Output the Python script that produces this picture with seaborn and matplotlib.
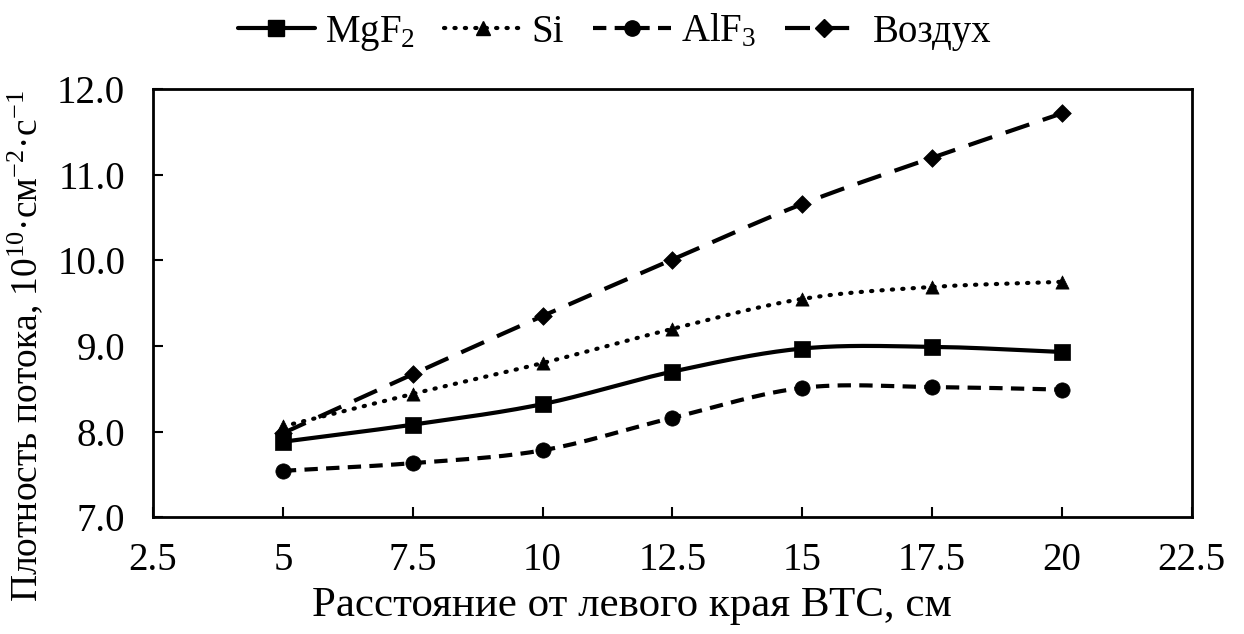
import numpy as np
import pandas as pd
import matplotlib
matplotlib.use("Agg")
import matplotlib.pyplot as plt
from matplotlib.lines import Line2D
import seaborn as sns

# Distance from the left edge of the source, cm
distance = [5, 7.5, 10, 12.5, 15, 17.5, 20]

# Flux density, 10^10 cm^-2 s^-1
mgf2 = [7.88, 8.08, 8.32, 8.70, 8.97, 8.99, 8.93]
si = [8.06, 8.44, 8.80, 9.20, 9.55, 9.69, 9.75]
alf3 = [7.54, 7.63, 7.78, 8.16, 8.51, 8.52, 8.49]
air = [7.98, 8.67, 9.35, 10.01, 10.66, 11.20, 11.72]

series_names = ["MgF$_2$", "Si", "AlF$_3$", "Воздух"]
series_values = [mgf2, si, alf3, air]

x_ticks = [2.5, 5, 7.5, 10, 12.5, 15, 17.5, 20, 22.5]
y_ticks = [7.0, 8.0, 9.0, 10.0, 11.0, 12.0]

sns.set_style("ticks")
plt.rcParams["font.family"] = ["Liberation Serif", "DejaVu Serif"]
plt.rcParams["mathtext.fontset"] = "custom"
plt.rcParams["mathtext.rm"] = "Liberation Serif"
plt.rcParams["mathtext.it"] = "Liberation Serif"
plt.rcParams["mathtext.bf"] = "Liberation Serif"
for key in ["text.color", "axes.labelcolor", "xtick.color", "ytick.color",
            "axes.edgecolor"]:
    plt.rcParams[key] = "black"


def smooth_curve(xs, ys, n=30):
    """Catmull-Rom style smoothing through the measured points."""
    xs = np.asarray(xs, float)
    ys = np.asarray(ys, float)
    px = np.concatenate([[2 * xs[0] - xs[1]], xs, [2 * xs[-1] - xs[-2]]])
    py = np.concatenate([[2 * ys[0] - ys[1]], ys, [2 * ys[-1] - ys[-2]]])
    out_x, out_y = [], []
    for i in range(1, len(px) - 2):
        t = np.linspace(0, 1, n, endpoint=(i == len(px) - 3))
        p0, p1, p2, p3 = py[i - 1], py[i], py[i + 1], py[i + 2]
        q0, q1, q2, q3 = px[i - 1], px[i], px[i + 1], px[i + 2]
        t2, t3 = t * t, t * t * t
        yy = 0.5 * (2 * p1 + (-p0 + p2) * t + (2 * p0 - 5 * p1 + 4 * p2 - p3) * t2
                    + (-p0 + 3 * p1 - 3 * p2 + p3) * t3)
        xx = 0.5 * (2 * q1 + (-q0 + q2) * t + (2 * q0 - 5 * q1 + 4 * q2 - q3) * t2
                    + (-q0 + 3 * q1 - 3 * q2 + q3) * t3)
        out_x.append(xx)
        out_y.append(yy)
    return np.concatenate(out_x), np.concatenate(out_y)


styles = [
    dict(ls="-", marker="s", ms=11, dashes=None, cap="butt"),
    dict(ls=":", marker="^", ms=9.5, dashes=(0.3, 2.2), cap="round"),
    dict(ls="--", marker="o", ms=11, dashes=(3.2, 2.0), cap="butt"),
    dict(ls="--", marker="D", ms=9, dashes=(6.0, 3.4), cap="butt"),
]

fig = plt.figure(figsize=(12.44, 6.34), dpi=100)
ax = fig.add_axes([0.123, 0.1845, 0.835, 0.6745])

lw = 3.0
handles = []
for name, vals, st in zip(series_names, series_values, styles):
    sx, sy = smooth_curve(distance, vals)
    curve = pd.DataFrame({"x": sx, "y": sy})
    sns.lineplot(data=curve, x="x", y="y", ax=ax, color="black", lw=lw,
                 sort=False, estimator=None)
    line = ax.lines[-1]
    if st["dashes"] is not None:
        line.set_dashes(st["dashes"])
    line.set_dash_capstyle(st["cap"])
    pts = pd.DataFrame({"x": distance, "y": vals})
    sns.scatterplot(data=pts, x="x", y="y", ax=ax, color="black",
                    marker=st["marker"], s=st["ms"] ** 2, edgecolor="black",
                    linewidth=0.5, zorder=5)
    h = Line2D([0], [0], color="black", lw=lw, ls=st["ls"], marker=st["marker"],
               ms=st["ms"])
    if st["dashes"] is not None:
        h.set_dashes(st["dashes"])
    h.set_dash_capstyle(st["cap"])
    handles.append(h)

ax.set_xlim(2.5, 22.5)
ax.set_ylim(7.0, 12.0)
ax.set_xticks(x_ticks)
ax.set_xticklabels([f"{v:g}" for v in x_ticks])
ax.set_yticks(y_ticks)
ax.set_yticklabels([f"{v:.1f}" for v in y_ticks])
ax.tick_params(direction="in", length=7, width=1.5, labelsize=28, colors="black")
ax.tick_params(axis="y", pad=20)
ax.tick_params(axis="x", pad=18)
for sp in ax.spines.values():
    sp.set_visible(True)
    sp.set_linewidth(2.0)
    sp.set_color("black")

ax.set_xlabel("Расстояние от левого края ВТС, см", fontsize=31)
ax.xaxis.set_label_coords(0.461, -0.163)
ax.set_ylabel("Плотность потока, 10$^{10}$·см$^{-2}$·с$^{-1}$", fontsize=27)
ax.yaxis.set_label_coords(-0.104, 0.40)

fig.legend(handles, series_names, loc="upper center", bbox_to_anchor=(0.494, 1.035),
           ncol=4, frameon=False, fontsize=28, handlelength=2.0,
           columnspacing=0.75, handletextpad=0.25)

fig.savefig("out.png", dpi=100, facecolor="white")
